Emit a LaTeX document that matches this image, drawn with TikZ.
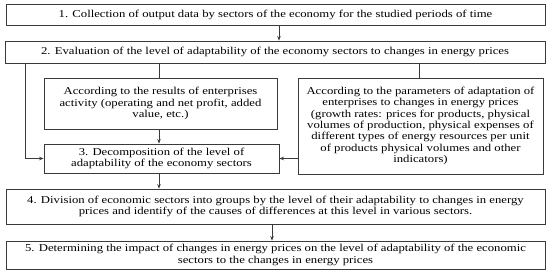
\documentclass[tikz,border=0pt]{standalone}
\usepackage{fontspec}
\setmainfont{Liberation Serif}[FakeStretch=1.21]
\definecolor{mLine}{HTML}{3A3A3A}
\usepackage{tikz}
\usetikzlibrary{arrows.meta}

\begin{document}
\begin{tikzpicture}[x=1pt, y=-1pt,
  box/.style={draw=mLine, line width=0.9pt, inner sep=0pt, align=center,
              font=\fontsize{10.5}{11.3}\selectfont},
  arr/.style={draw=mLine, line width=0.8pt, -{Stealth[length=4.5pt, width=3.6pt]}},
  lnk/.style={draw=mLine, line width=0.8pt}]
\useasboundingbox (0,0) rectangle (550,273);

\node[box, minimum width=539pt, minimum height=21pt] (s1) at (275.5,14.5)
  {1. Collection of output data by sectors of the economy for the studied periods of time};
\node[box, minimum width=540pt, minimum height=22pt] (s2) at (275,52)
  {2. Evaluation of the level of adaptability of the economy sectors to changes in energy prices};
\node[box, minimum width=233pt, minimum height=51pt] (sa) at (160.5,103.5)
  {According to the results of enterprises\\ activity (operating and net profit, added\\ value, etc.)};
\node[box, minimum width=245pt, minimum height=96pt] (sb) at (420.5,126)
  {According to the parameters of adaptation of\\ enterprises to changes in energy prices\\
   (growth rates: prices for products, physical\\ volumes of production, physical expenses of\\
   different types of energy resources per unit\\ of products physical volumes and other\\ indicators)};
\node[box, minimum width=235pt, minimum height=29pt] (s3) at (161.5,158.5)
  {3. Decomposition of the level of\\ adaptability of the economy sectors};
\node[box, minimum width=539pt, minimum height=35pt] (s4) at (275.5,206.5)
  {4. Division of economic sectors into groups by the level of their adaptability to changes in energy\\
   prices and identify of the causes of differences at this level in various sectors.};
\node[box, minimum width=539pt, minimum height=28pt] (s5) at (275.5,255)
  {5. Determining the impact of changes in energy prices on the level of adaptability of the economic\\
   sectors to the changes in energy prices};

% columns of the connectors
\coordinate (c1) at (279,0);
\coordinate (cl) at (25,0);
\coordinate (ca) at (159,0);
\coordinate (cb) at (419,0);
\coordinate (c4) at (272,0);

\draw[arr] (s1.south -| c1) -- (s2.north -| c1);
\draw[lnk] (s2.south -| ca) -- (sa.north -| ca);
\draw[lnk] (s2.south -| cb) -- (sb.north -| cb);
\draw[arr] (s2.south -| cl) |- (s3.west);
\draw[arr] (sa.south -| ca) -- (s3.north -| ca);
\draw[arr] (sb.west |- s3.east) -- (s3.east);
\draw[arr] (s3.south -| ca) -- (s4.north -| ca);
\draw[arr] (s4.south -| c4) -- (s5.north -| c4);
\end{tikzpicture}
\end{document}
